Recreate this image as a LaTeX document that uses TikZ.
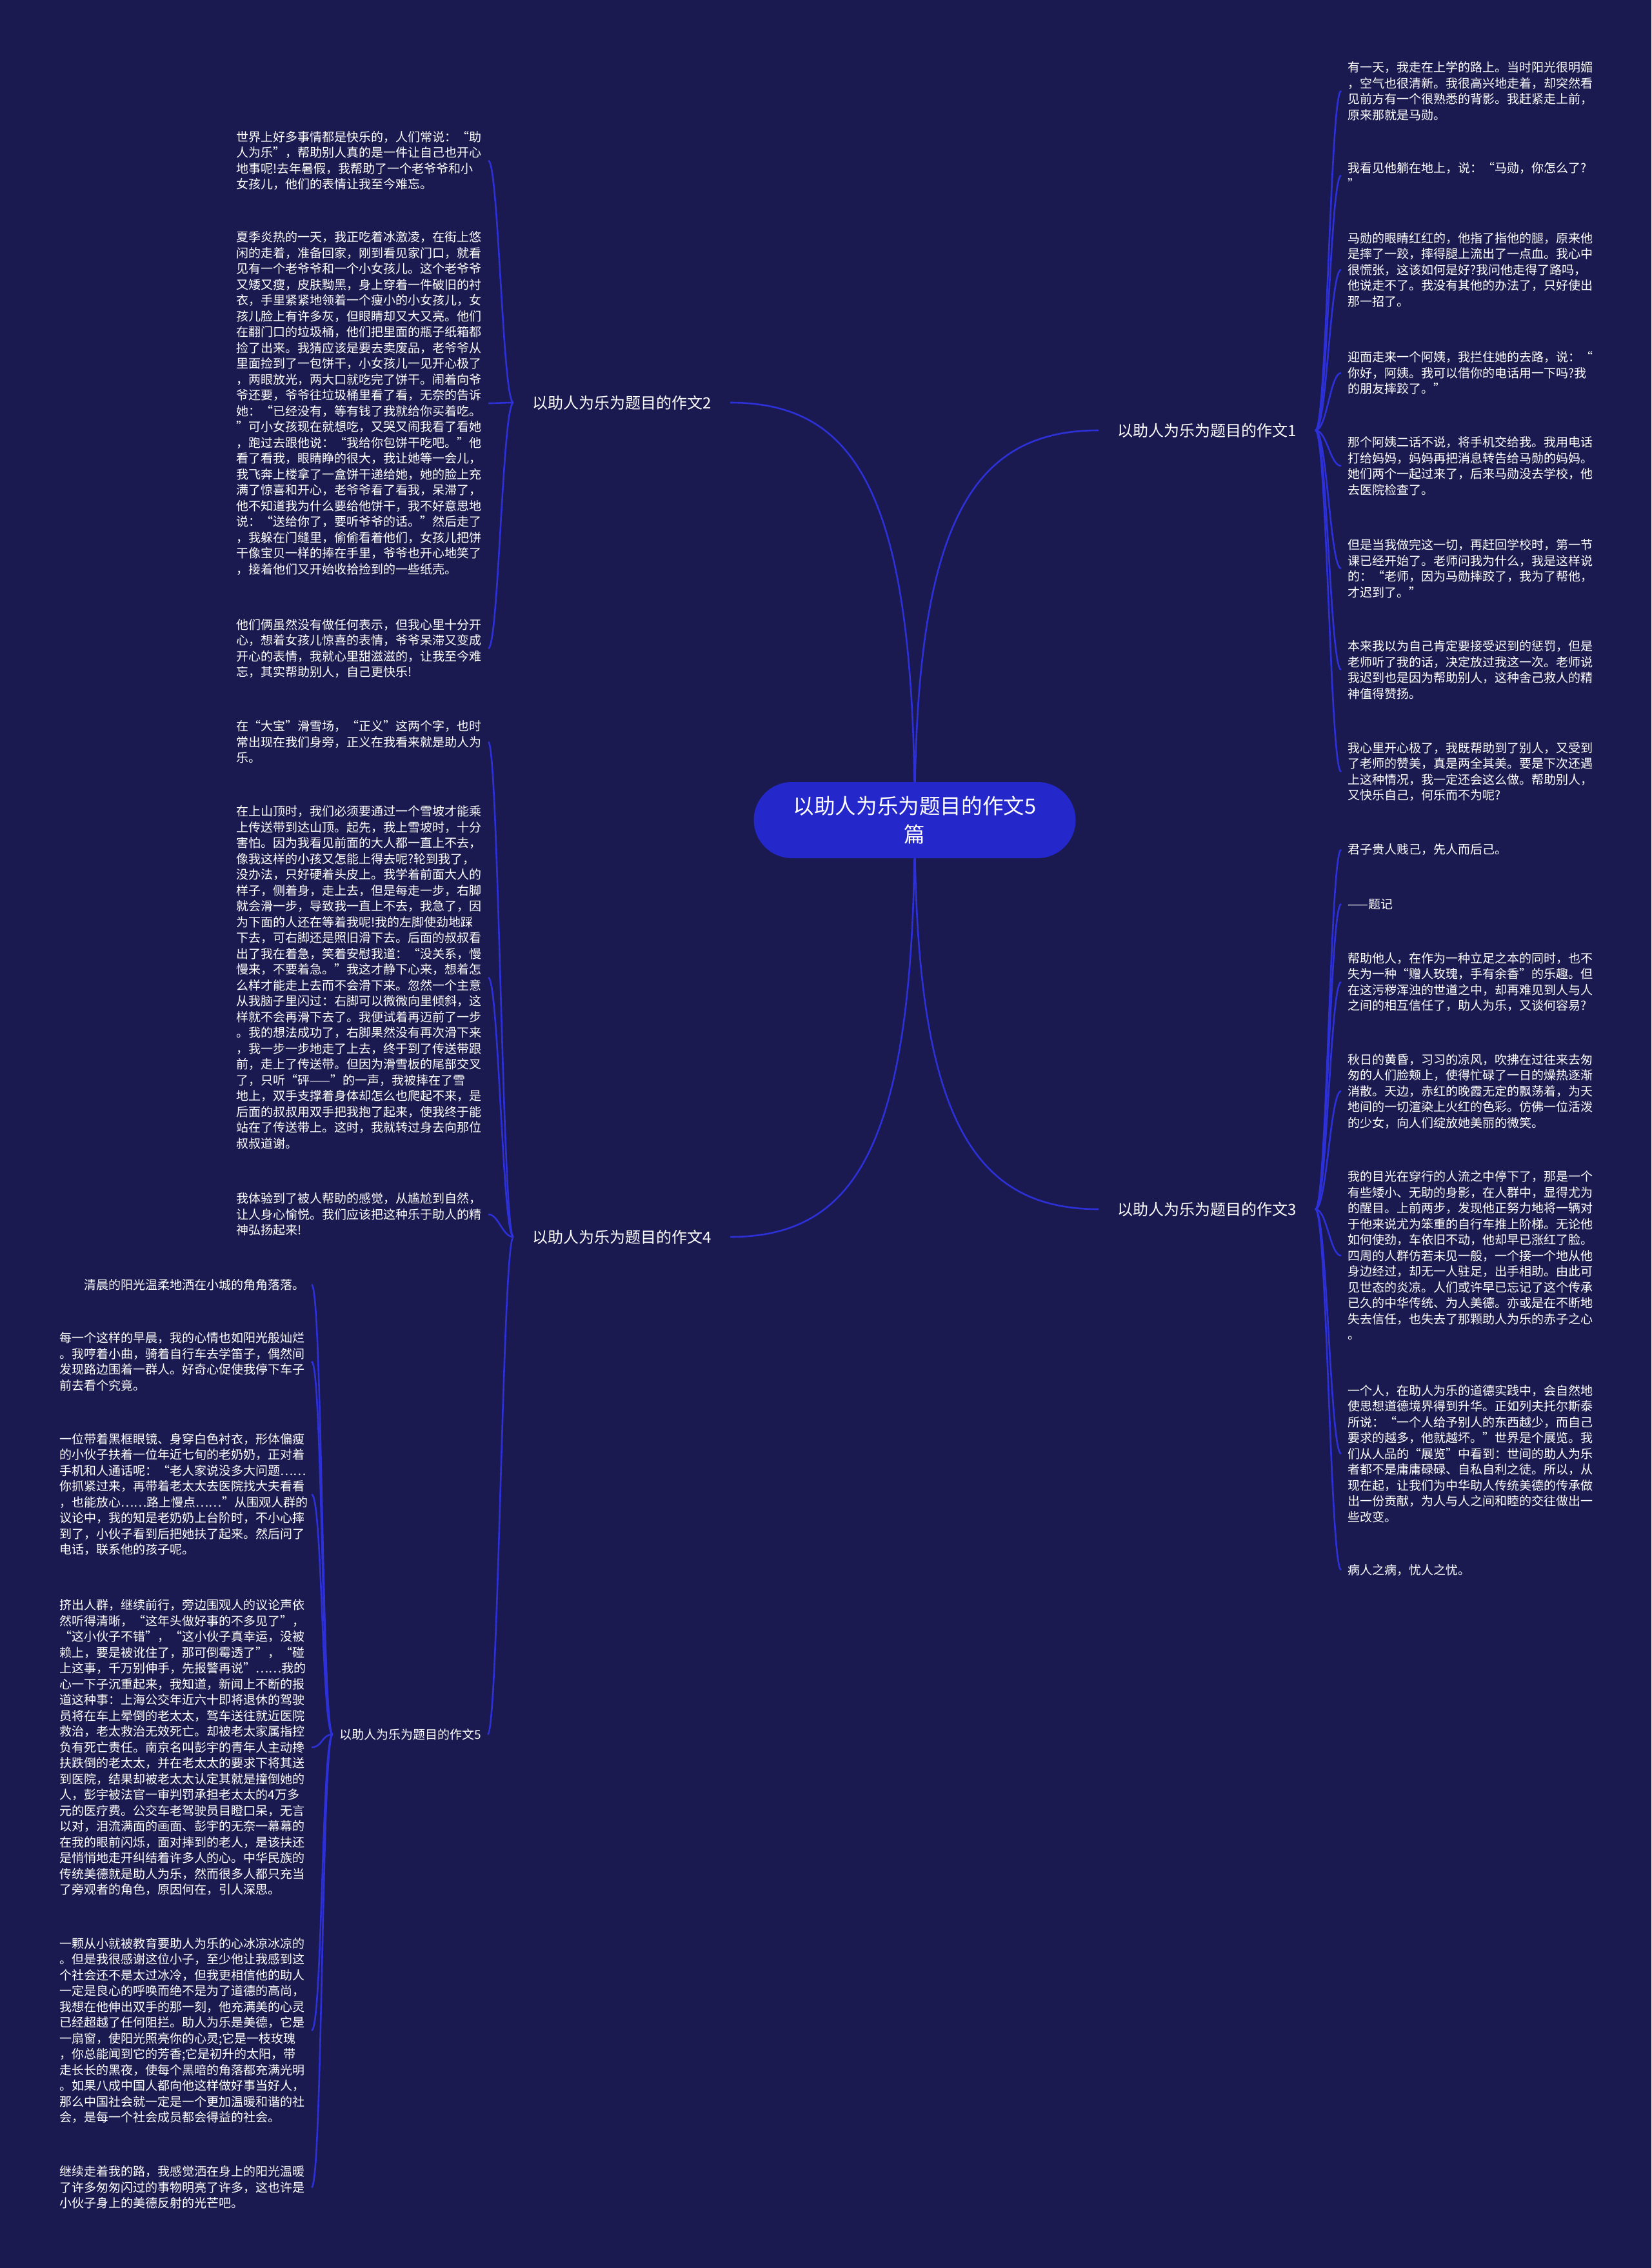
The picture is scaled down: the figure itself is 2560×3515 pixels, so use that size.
\documentclass[tikz,border=0pt]{standalone}
\usepackage{fontspec}
\setmainfont{Noto Sans CJK SC}
\setlength{\parindent}{0pt}
\definecolor{bgnavy}{HTML}{1A1A50}
\definecolor{linkblue}{HTML}{2C30D6}
\definecolor{rootblue}{HTML}{2427C9}
\pgfdeclarelayer{bg}
\pgfdeclarelayer{wires}
\pgfsetlayers{bg,wires,main}
\begin{document}
\begin{tikzpicture}[x=0.5pt,y=-0.5pt,
  link/.style={draw=linkblue,line width=1.3pt},
  leaf/.style={text=white,font=\fontsize{9.5pt}{12.25pt}\selectfont,align=left,text width=190pt,inner xsep=5pt,inner ysep=2pt},
  subbranch/.style={text=white,font=\fontsize{9.5pt}{12.25pt}\selectfont,inner xsep=5pt,inner ysep=2pt},
  branch/.style={text=white,font=\fontsize{12pt}{14pt}\selectfont,inner xsep=14.5pt,inner ysep=2pt},
  centrebox/.style={fill=rootblue,text=white,rounded corners=29.5pt,minimum width=249.5pt,minimum height=59pt,align=center,font=\fontsize{16.3pt}{22.3pt}\selectfont}]
\begin{pgfonlayer}{bg}
\fill[bgnavy] (0,0) rectangle (2560,3515);
\end{pgfonlayer}
% centre and main branches
\node[centrebox] (centre) at (1418,1271) {以助人为乐为题目的作文5\\篇};
\node[branch,anchor=west] (b1) at (1703,667) {以助人为乐为题目的作文1};
\node[branch,anchor=east] (b2) at (1132,624) {以助人为乐为题目的作文2};
\node[branch,anchor=west] (b3) at (1703,1874) {以助人为乐为题目的作文3};
\node[branch,anchor=east] (b4) at (1132,1917) {以助人为乐为题目的作文4};
\node[subbranch,anchor=east] (b5) at (756,2688) {以助人为乐为题目的作文5};
% essay 1
\node[leaf,anchor=west] (l1a) at (2079,141) {有一天，我走在上学的路上。当时阳光很明媚\\，空气也很清新。我很高兴地走着，却突然看\\见前方有一个很熟悉的背影。我赶紧走上前，\\原来那就是马勋。};
\node[leaf,anchor=west] (l1b) at (2079,272) {我看见他躺在地上，说：“马勋，你怎么了?\\”};
\node[leaf,anchor=west] (l1c) at (2079,418) {马勋的眼睛红红的，他指了指他的腿，原来他\\是摔了一跤，摔得腿上流出了一点血。我心中\\很慌张，这该如何是好?我问他走得了路吗，\\他说走不了。我没有其他的办法了，只好使出\\那一招了。};
\node[leaf,anchor=west] (l1d) at (2079,578) {迎面走来一个阿姨，我拦住她的去路，说：“\\你好，阿姨。我可以借你的电话用一下吗?我\\的朋友摔跤了。”};
\node[leaf,anchor=west] (l1e) at (2079,722) {那个阿姨二话不说，将手机交给我。我用电话\\打给妈妈，妈妈再把消息转告给马勋的妈妈。\\她们两个一起过来了，后来马勋没去学校，他\\去医院检查了。};
\node[leaf,anchor=west] (l1f) at (2079,881) {但是当我做完这一切，再赶回学校时，第一节\\课已经开始了。老师问我为什么，我是这样说\\的：“老师，因为马勋摔跤了，我为了帮他，\\才迟到了。”};
\node[leaf,anchor=west] (l1g) at (2079,1038) {本来我以为自己肯定要接受迟到的惩罚，但是\\老师听了我的话，决定放过我这一次。老师说\\我迟到也是因为帮助别人，这种舍己救人的精\\神值得赞扬。};
\node[leaf,anchor=west] (l1h) at (2079,1196) {我心里开心极了，我既帮助到了别人，又受到\\了老师的赞美，真是两全其美。要是下次还遇\\上这种情况，我一定还会这么做。帮助别人，\\又快乐自己，何乐而不为呢?};
% essay 3
\node[leaf,anchor=west] (l3a) at (2079,1317) {君子贵人贱己，先人而后己。};
\node[leaf,anchor=west] (l3b) at (2079,1401) {——题记};
\node[leaf,anchor=west] (l3c) at (2079,1522) {帮助他人，在作为一种立足之本的同时，也不\\失为一种“赠人玫瑰，手有余香”的乐趣。但\\在这污秽浑浊的世道之中，却再难见到人与人\\之间的相互信任了，助人为乐，又谈何容易?};
\node[leaf,anchor=west] (l3d) at (2079,1691) {秋日的黄昏，习习的凉风，吹拂在过往来去匆\\匆的人们脸颊上，使得忙碌了一日的燥热逐渐\\消散。天边，赤红的晚霞无定的飘荡着，为天\\地间的一切渲染上火红的色彩。仿佛一位活泼\\的少女，向人们绽放她美丽的微笑。};
\node[leaf,anchor=west] (l3e) at (2079,1946) {我的目光在穿行的人流之中停下了，那是一个\\有些矮小、无助的身影，在人群中，显得尤为\\的醒目。上前两步，发现他正努力地将一辆对\\于他来说尤为笨重的自行车推上阶梯。无论他\\如何使劲，车依旧不动，他却早已涨红了脸。\\四周的人群仿若未见一般，一个接一个地从他\\身边经过，却无一人驻足，出手相助。由此可\\见世态的炎凉。人们或许早已忘记了这个传承\\已久的中华传统、为人美德。亦或是在不断地\\失去信任，也失去了那颗助人为乐的赤子之心\\。};
\node[leaf,anchor=west] (l3f) at (2079,2253) {一个人，在助人为乐的道德实践中，会自然地\\使思想道德境界得到升华。正如列夫托尔斯泰\\所说：“一个人给予别人的东西越少，而自己\\要求的越多，他就越坏。”世界是个展览。我\\们从人品的“展览”中看到：世间的助人为乐\\者都不是庸庸碌碌、自私自利之徒。所以，从\\现在起，让我们为中华助人传统美德的传承做\\出一份贡献，为人与人之间和睦的交往做出一\\些改变。};
\node[leaf,anchor=west] (l3g) at (2079,2433) {病人之病，忧人之忧。};
% essay 2
\node[leaf,anchor=east] (l2a) at (757,249) {世界上好多事情都是快乐的，人们常说：“助\\人为乐”，帮助别人真的是一件让自己也开心\\地事呢!去年暑假，我帮助了一个老爷爷和小\\女孩儿，他们的表情让我至今难忘。};
\node[leaf,anchor=east] (l2b) at (757,625) {夏季炎热的一天，我正吃着冰激凌，在街上悠\\闲的走着，准备回家，刚到看见家门口，就看\\见有一个老爷爷和一个小女孩儿。这个老爷爷\\又矮又瘦，皮肤黝黑，身上穿着一件破旧的衬\\衣，手里紧紧地领着一个瘦小的小女孩儿，女\\孩儿脸上有许多灰，但眼睛却又大又亮。他们\\在翻门口的垃圾桶，他们把里面的瓶子纸箱都\\捡了出来。我猜应该是要去卖废品，老爷爷从\\里面捡到了一包饼干，小女孩儿一见开心极了\\，两眼放光，两大口就吃完了饼干。闹着向爷\\爷还要，爷爷往垃圾桶里看了看，无奈的告诉\\她：“已经没有，等有钱了我就给你买着吃。\\”可小女孩现在就想吃，又哭又闹我看了看她\\，跑过去跟他说：“我给你包饼干吃吧。”他\\看了看我，眼睛睁的很大，我让她等一会儿，\\我飞奔上楼拿了一盒饼干递给她，她的脸上充\\满了惊喜和开心，老爷爷看了看我，呆滞了，\\他不知道我为什么要给他饼干，我不好意思地\\说：“送给你了，要听爷爷的话。”然后走了\\，我躲在门缝里，偷偷看着他们，女孩儿把饼\\干像宝贝一样的捧在手里，爷爷也开心地笑了\\，接着他们又开始收拾捡到的一些纸壳。};
\node[leaf,anchor=east] (l2c) at (757,1005) {他们俩虽然没有做任何表示，但我心里十分开\\心，想着女孩儿惊喜的表情，爷爷呆滞又变成\\开心的表情，我就心里甜滋滋的，让我至今难\\忘，其实帮助别人，自己更快乐!};
% essay 4
\node[leaf,anchor=east] (l4a) at (757,1150) {在“大宝”滑雪场，“正义”这两个字，也时\\常出现在我们身旁，正义在我看来就是助人为\\乐。};
\node[leaf,anchor=east] (l4b) at (757,1515) {在上山顶时，我们必须要通过一个雪坡才能乘\\上传送带到达山顶。起先，我上雪坡时，十分\\害怕。因为我看见前面的大人都一直上不去，\\像我这样的小孩又怎能上得去呢?轮到我了，\\没办法，只好硬着头皮上。我学着前面大人的\\样子，侧着身，走上去，但是每走一步，右脚\\就会滑一步，导致我一直上不去，我急了，因\\为下面的人还在等着我呢!我的左脚使劲地踩\\下去，可右脚还是照旧滑下去。后面的叔叔看\\出了我在着急，笑着安慰我道：“没关系，慢\\慢来，不要着急。”我这才静下心来，想着怎\\么样才能走上去而不会滑下来。忽然一个主意\\从我脑子里闪过：右脚可以微微向里倾斜，这\\样就不会再滑下去了。我便试着再迈前了一步\\。我的想法成功了，右脚果然没有再次滑下来\\，我一步一步地走了上去，终于到了传送带跟\\前，走上了传送带。但因为滑雪板的尾部交叉\\了，只听“砰——”的一声，我被摔在了雪\\地上，双手支撑着身体却怎么也爬起不来，是\\后面的叔叔用双手把我抱了起来，使我终于能\\站在了传送带上。这时，我就转过身去向那位\\叔叔道谢。};
\node[leaf,anchor=east] (l4c) at (757,1882) {我体验到了被人帮助的感觉，从尴尬到自然，\\让人身心愉悦。我们应该把这种乐于助人的精\\神弘扬起来!};
% essay 5
\node[leaf,anchor=east] (l5a) at (483,1991) {\hspace*{2em}清晨的阳光温柔地洒在小城的角角落落。};
\node[leaf,anchor=east] (l5b) at (483,2110) {每一个这样的早晨，我的心情也如阳光般灿烂\\。我哼着小曲，骑着自行车去学笛子，偶然间\\发现路边围着一群人。好奇心促使我停下车子\\前去看个究竟。};
\node[leaf,anchor=east] (l5c) at (483,2316) {一位带着黑框眼镜、身穿白色衬衣，形体偏瘦\\的小伙子扶着一位年近七旬的老奶奶，正对着\\手机和人通话呢：“老人家说没多大问题……\\你抓紧过来，再带着老太太去医院找大夫看看\\，也能放心……路上慢点……”从围观人群的\\议论中，我的知是老奶奶上台阶时，不小心摔\\到了，小伙子看到后把她扶了起来。然后问了\\电话，联系他的孩子呢。};
\node[leaf,anchor=east] (l5d) at (483,2708) {挤出人群，继续前行，旁边围观人的议论声依\\然听得清晰，“这年头做好事的不多见了”，\\“这小伙子不错”，“这小伙子真幸运，没被\\赖上，要是被讹住了，那可倒霉透了”，“碰\\上这事，千万别伸手，先报警再说”……我的\\心一下子沉重起来，我知道，新闻上不断的报\\道这种事：上海公交年近六十即将退休的驾驶\\员将在车上晕倒的老太太，驾车送往就近医院\\救治，老太救治无效死亡。却被老太家属指控\\负有死亡责任。南京名叫彭宇的青年人主动搀\\扶跌倒的老太太，并在老太太的要求下将其送\\到医院，结果却被老太太认定其就是撞倒她的\\人，彭宇被法官一审判罚承担老太太的4万多\\元的医疗费。公交车老驾驶员目瞪口呆，无言\\以对，泪流满面的画面、彭宇的无奈一幕幕的\\在我的眼前闪烁，面对摔到的老人，是该扶还\\是悄悄地走开纠结着许多人的心。中华民族的\\传统美德就是助人为乐，然而很多人都只充当\\了旁观者的角色，原因何在，引人深思。};
\node[leaf,anchor=east] (l5e) at (483,3147) {一颗从小就被教育要助人为乐的心冰凉冰凉的\\。但是我很感谢这位小子，至少他让我感到这\\个社会还不是太过冰冷，但我更相信他的助人\\一定是良心的呼唤而绝不是为了道德的高尚，\\我想在他伸出双手的那一刻，他充满美的心灵\\已经超越了任何阻拦。助人为乐是美德，它是\\一扇窗，使阳光照亮你的心灵;它是一枝玫瑰\\，你总能闻到它的芳香;它是初升的太阳，带\\走长长的黑夜，使每个黑暗的角落都充满光明\\。如果八成中国人都向他这样做好事当好人，\\那么中国社会就一定是一个更加温暖和谐的社\\会，是每一个社会成员都会得益的社会。};
\node[leaf,anchor=east] (l5f) at (483,3390) {继续走着我的路，我感觉洒在身上的阳光温暖\\了许多匆匆闪过的事物明亮了许多，这也许是\\小伙子身上的美德反射的光芒吧。};
\begin{pgfonlayer}{wires}
% centre to branches
\draw[link] (b1.west) .. controls +(-200,0) and +(0,-455) .. (centre.center);
\draw[link] (b2.east) .. controls +(200,0) and +(0,-498) .. (centre.center);
\draw[link] (b3.west) .. controls +(-200,0) and +(0,452) .. (centre.center);
\draw[link] (b4.east) .. controls +(200,0) and +(0,495) .. (centre.center);
% essay 1
\draw[link] (b1.east) .. controls +(18,0) and +(-17,0) .. (l1a.west);
\draw[link] (b1.east) .. controls +(18,0) and +(-17,0) .. (l1b.west);
\draw[link] (b1.east) .. controls +(18,0) and +(-17,0) .. (l1c.west);
\draw[link] (b1.east) .. controls +(18,0) and +(-17,0) .. (l1d.west);
\draw[link] (b1.east) .. controls +(18,0) and +(-17,0) .. (l1e.west);
\draw[link] (b1.east) .. controls +(18,0) and +(-17,0) .. (l1f.west);
\draw[link] (b1.east) .. controls +(18,0) and +(-17,0) .. (l1g.west);
\draw[link] (b1.east) .. controls +(18,0) and +(-17,0) .. (l1h.west);
% essay 3
\draw[link] (b3.east) .. controls +(18,0) and +(-17,0) .. (l3a.west);
\draw[link] (b3.east) .. controls +(18,0) and +(-17,0) .. (l3b.west);
\draw[link] (b3.east) .. controls +(18,0) and +(-17,0) .. (l3c.west);
\draw[link] (b3.east) .. controls +(18,0) and +(-17,0) .. (l3d.west);
\draw[link] (b3.east) .. controls +(18,0) and +(-17,0) .. (l3e.west);
\draw[link] (b3.east) .. controls +(18,0) and +(-17,0) .. (l3f.west);
\draw[link] (b3.east) .. controls +(18,0) and +(-17,0) .. (l3g.west);
% essay 2
\draw[link] (b2.west) .. controls +(-17,0) and +(16,0) .. (l2a.east);
\draw[link] (b2.west) .. controls +(-17,0) and +(16,0) .. (l2b.east);
\draw[link] (b2.west) .. controls +(-17,0) and +(16,0) .. (l2c.east);
% essay 4
\draw[link] (b4.west) .. controls +(-17,0) and +(16,0) .. (l4a.east);
\draw[link] (b4.west) .. controls +(-17,0) and +(16,0) .. (l4b.east);
\draw[link] (b4.west) .. controls +(-17,0) and +(16,0) .. (l4c.east);
\draw[link] (b4.west) .. controls +(-17,0) and +(17,0) .. (b5.east);
% essay 5
\draw[link] (b5.west) .. controls +(-17,0) and +(17,0) .. (l5a.east);
\draw[link] (b5.west) .. controls +(-17,0) and +(17,0) .. (l5b.east);
\draw[link] (b5.west) .. controls +(-17,0) and +(17,0) .. (l5c.east);
\draw[link] (b5.west) .. controls +(-17,0) and +(17,0) .. (l5d.east);
\draw[link] (b5.west) .. controls +(-17,0) and +(17,0) .. (l5e.east);
\draw[link] (b5.west) .. controls +(-17,0) and +(17,0) .. (l5f.east);
\end{pgfonlayer}
\end{tikzpicture}
\end{document}
